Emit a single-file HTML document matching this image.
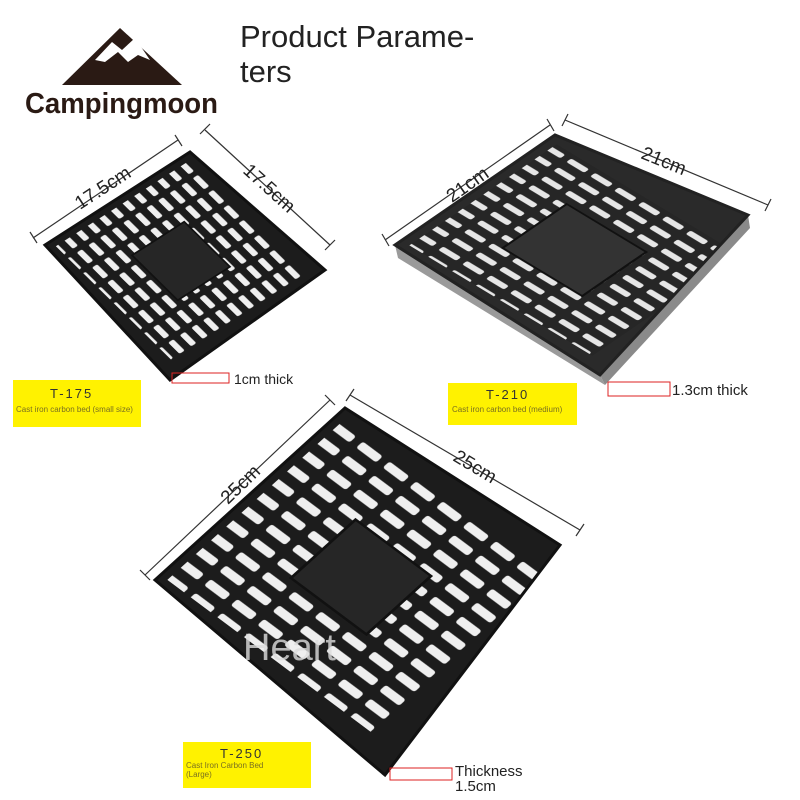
<!DOCTYPE html>
<html><head><meta charset="utf-8"><style>
html,body{margin:0;padding:0;background:#fff;}
svg{display:block;}
text{font-family:"Liberation Sans",sans-serif;}
</style></head><body>
<svg width="800" height="800" viewBox="0 0 800 800" xmlns="http://www.w3.org/2000/svg">
<defs>
<pattern id="slots" width="8" height="12" patternUnits="userSpaceOnUse">
<rect width="8" height="12" fill="#1c1c1c"/>
<rect x="2" y="1.5" width="3.6" height="9" rx="1" fill="#efefef"/>
</pattern>
<pattern id="slots2" width="8" height="12" patternUnits="userSpaceOnUse">
<rect width="8" height="12" fill="#262626"/>
<rect x="2.2" y="1.5" width="3.2" height="9" rx="1" fill="#e6e6e6"/>
</pattern>
<clipPath id="c1"><polygon points="45,245 190,152 325,270 170,380"/></clipPath>
<clipPath id="c2"><polygon points="395,245 555,135 748,215 600,375"/></clipPath>
<clipPath id="c3"><polygon points="155,580 345,408 560,545 385,775"/></clipPath>
</defs>

<!-- logo -->
<polygon points="62,85 120,28 182,85" fill="#2a1a14"/>
<polygon points="95,60 112,42 122,50 135,38 150,60 138,55 128,62 118,52 105,62" fill="#fff"/>
<text x="25" y="113" font-size="29" font-weight="bold" fill="#2a1a14" textLength="193" lengthAdjust="spacingAndGlyphs">Campingmoon</text>

<text x="240" y="47" font-size="31" fill="#222">Product Parame-</text>
<text x="240" y="82" font-size="31" fill="#222">ters</text>

<!-- plate 1 -->
<polygon points="45,245 190,152 325,270 170,380" fill="#1c1c1c"/>
<g clip-path="url(#c1)">
<g transform="matrix(1.45,-0.93,1.27,1.25,45,245)">
<rect x="4" y="4" width="92" height="92" fill="url(#slots)"/>
<rect x="32" y="32" width="36" height="36" fill="#262626" stroke="#111" stroke-width="1"/>
</g></g>
<polygon points="45,245 190,152 325,270 170,380" fill="none" stroke="#111" stroke-width="3"/>

<!-- plate 2 -->
<polygon points="395,245 600,375 605,385 398,258" fill="#9a9a9a"/>
<polygon points="600,375 748,215 750,228 605,385" fill="#8a8a8a"/>
<polygon points="395,245 555,135 748,215 600,375" fill="#2a2a2a"/>
<g clip-path="url(#c2)">
<g transform="matrix(1.6,-1.1,1.99,1.2,395,245)">
<rect x="4" y="4" width="92" height="92" fill="url(#slots2)"/>
<rect x="30" y="30" width="40" height="40" fill="#333" stroke="#111" stroke-width="1"/>
</g></g>
<polygon points="395,245 555,135 748,215 600,375" fill="none" stroke="#222" stroke-width="3"/>

<!-- plate 3 -->
<polygon points="155,580 345,408 560,545 385,775" fill="#1c1c1c"/>
<g clip-path="url(#c3)">
<g transform="matrix(1.9,-1.72,2.22,1.66,155,580)">
<rect x="3" y="3" width="94" height="94" fill="url(#slots)"/>
<rect x="33" y="33" width="34" height="34" fill="#262626" stroke="#111" stroke-width="1"/>
</g></g>
<polygon points="155,580 345,408 560,545 385,775" fill="none" stroke="#111" stroke-width="3"/>
<text x="243" y="660" font-size="38" fill="#ddd" opacity="0.8" font-family="Liberation Serif">Heart</text>

<!-- dimension lines -->
<g stroke="#333" stroke-width="1.2">
<line x1="33" y1="238" x2="178" y2="140"/><line x1="30" y1="232" x2="37" y2="243"/><line x1="175" y1="135" x2="182" y2="146"/>
<line x1="205" y1="130" x2="330" y2="245"/><line x1="200" y1="134" x2="210" y2="124"/><line x1="325" y1="250" x2="335" y2="240"/>
<line x1="385" y1="240" x2="550" y2="125"/><line x1="382" y1="234" x2="389" y2="246"/><line x1="547" y1="119" x2="554" y2="131"/>
<line x1="565" y1="120" x2="768" y2="205"/><line x1="562" y1="126" x2="568" y2="114"/><line x1="765" y1="211" x2="771" y2="199"/>
<line x1="145" y1="575" x2="330" y2="400"/><line x1="140" y1="570" x2="150" y2="580"/><line x1="325" y1="395" x2="335" y2="405"/>
<line x1="350" y1="395" x2="580" y2="530"/><line x1="346" y1="401" x2="354" y2="389"/><line x1="576" y1="536" x2="584" y2="524"/>
</g>
<g font-size="19" fill="#222">
<text transform="translate(80,210) rotate(-33)">17.5cm</text>
<text transform="translate(242,172) rotate(42)">17.5cm</text>
<text transform="translate(452,203) rotate(-35)">21cm</text>
<text transform="translate(640,158) rotate(22)">21cm</text>
<text transform="translate(228,505) rotate(-44)">25cm</text>
<text transform="translate(452,460) rotate(31)">25cm</text>
</g>

<!-- labels -->
<rect x="13" y="380" width="128" height="47" fill="#fff200"/>
<text x="50" y="398" font-size="13" fill="#333" letter-spacing="2">T-175</text>
<text x="16" y="412" font-size="8" fill="#7a7020">Cast iron carbon bed (small size)</text>
<rect x="172" y="373" width="57" height="10" fill="none" stroke="#d22" stroke-width="1"/>
<text x="234" y="384" font-size="14" fill="#222">1cm thick</text>

<rect x="448" y="383" width="129" height="42" fill="#fff200"/>
<text x="486" y="399" font-size="13" fill="#333" letter-spacing="2">T-210</text>
<text x="452" y="412" font-size="8" fill="#7a7020">Cast iron carbon bed (medium)</text>
<rect x="608" y="382" width="62" height="14" fill="none" stroke="#d22" stroke-width="1"/>
<text x="672" y="395" font-size="15" fill="#222">1.3cm thick</text>

<rect x="183" y="742" width="128" height="46" fill="#fff200"/>
<text x="220" y="758" font-size="13" fill="#333" letter-spacing="2">T-250</text>
<text x="186" y="768" font-size="8" fill="#7a7020">Cast Iron Carbon Bed</text>
<text x="186" y="777" font-size="8" fill="#7a7020">(Large)</text>
<rect x="390" y="768" width="62" height="12" fill="none" stroke="#d22" stroke-width="1"/>
<text x="455" y="776" font-size="15" fill="#222">Thickness</text>
<text x="455" y="791" font-size="15" fill="#222">1.5cm</text>
</svg>
</body></html>
